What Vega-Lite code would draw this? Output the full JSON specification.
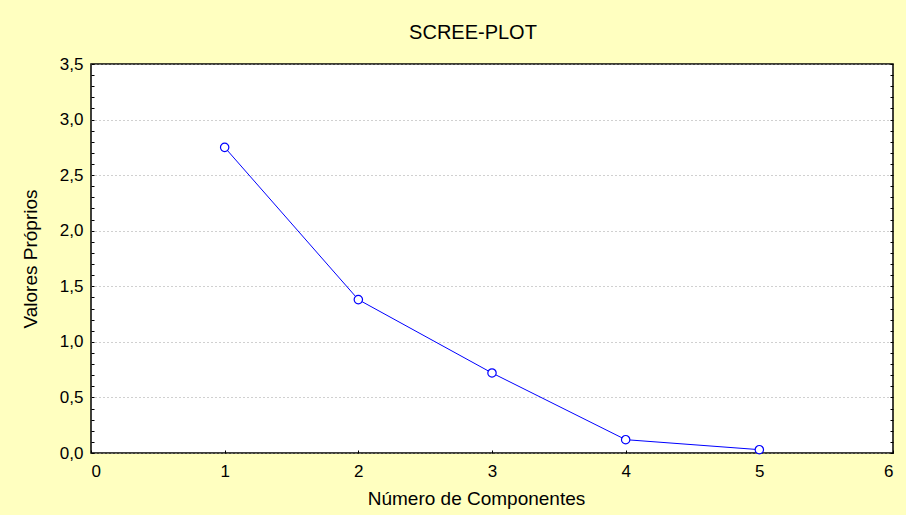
{
  "$schema": "https://vega.github.io/schema/vega-lite/v6.json",
  "autosize": "none",
  "width": 802,
  "height": 389,
  "padding": {"left": 91, "top": 64, "right": 13, "bottom": 62},
  "background": "#FFFFC0",
  "title": {"text": "SCREE-PLOT", "fontSize": 20, "fontWeight": "normal", "font": "Liberation Sans", "color": "#000000", "offset": 12, "dx": -19},
  "config": {
    "font": "Liberation Sans",
    "view": {"stroke": "#000000", "strokeWidth": 1.5, "fill": "#FFFFFF"},
    "axis": {"domain": false, "labelFont": "Liberation Sans", "titleFont": "Liberation Sans", "labelColor": "#000000", "titleColor": "#000000", "tickColor": "#000000", "labelFontSize": 17, "titleFontSize": 19, "titleFontWeight": "normal"}
  },
  "data": {"values": [
    {"componente": 1, "valor": 2.75},
    {"componente": 2, "valor": 1.38},
    {"componente": 3, "valor": 0.72},
    {"componente": 4, "valor": 0.12},
    {"componente": 5, "valor": 0.03}
  ]},
  "layer": [
    {
      "mark": {"type": "line", "color": "#0000FF", "strokeWidth": 1},
      "encoding": {
        "x": {"field": "componente", "type": "quantitative", "scale": {"domain": [0, 6], "nice": false, "zero": false},
          "axis": {"title": "Número de Componentes", "values": [0, 1, 2, 3, 4, 5, 6], "format": "d", "grid": false, "tickSize": -3, "tickWidth": 1, "labelPadding": 13, "titlePadding": 10, "titleX": 385}},
        "y": {"field": "valor", "type": "quantitative", "scale": {"domain": [0, 3.5], "nice": false, "zero": false},
          "axis": {"title": "Valores Próprios", "values": [0, 0.1, 0.2, 0.3, 0.4, 0.5, 0.6, 0.7, 0.8, 0.9, 1, 1.1, 1.2, 1.3, 1.4, 1.5, 1.6, 1.7, 1.8, 1.9, 2, 2.1, 2.2, 2.3, 2.4, 2.5, 2.6, 2.7, 2.8, 2.9, 3, 3.1, 3.2, 3.3, 3.4, 3.5],
            "labelExpr": "abs(datum.value*2 - round(datum.value*2)) < 0.001 ? replace(format(datum.value, '.1f'), '.', ',') : ''",
            "grid": true, "gridColor": "#A0A0A0", "gridDash": [1, 3], "gridWidth": 1,
            "gridOpacity": {"condition": {"test": "abs(datum.value*2 - round(datum.value*2)) < 0.001", "value": 1}, "value": 0},
            "tickSize": -3, "tickWidth": 1, "labelPadding": 11, "titlePadding": 19}}
      }
    },
    {
      "mark": {"type": "point", "shape": "circle", "filled": true, "fill": "#FFFFFF", "stroke": "#0000FF", "strokeWidth": 1.2, "size": 70, "opacity": 1},
      "encoding": {
        "x": {"field": "componente", "type": "quantitative"},
        "y": {"field": "valor", "type": "quantitative", "scale": {"domain": [0, 3.5], "nice": false, "zero": false},
          "axis": {"orient": "right", "title": null, "labels": false, "grid": false, "values": [0, 0.1, 0.2, 0.3, 0.4, 0.5, 0.6, 0.7, 0.8, 0.9, 1, 1.1, 1.2, 1.3, 1.4, 1.5, 1.6, 1.7, 1.8, 1.9, 2, 2.1, 2.2, 2.3, 2.4, 2.5, 2.6, 2.7, 2.8, 2.9, 3, 3.1, 3.2, 3.3, 3.4, 3.5], "tickSize": -3, "tickWidth": 1}}
      }
    }
  ],
  "resolve": {"scale": {"y": "independent"}}
}
